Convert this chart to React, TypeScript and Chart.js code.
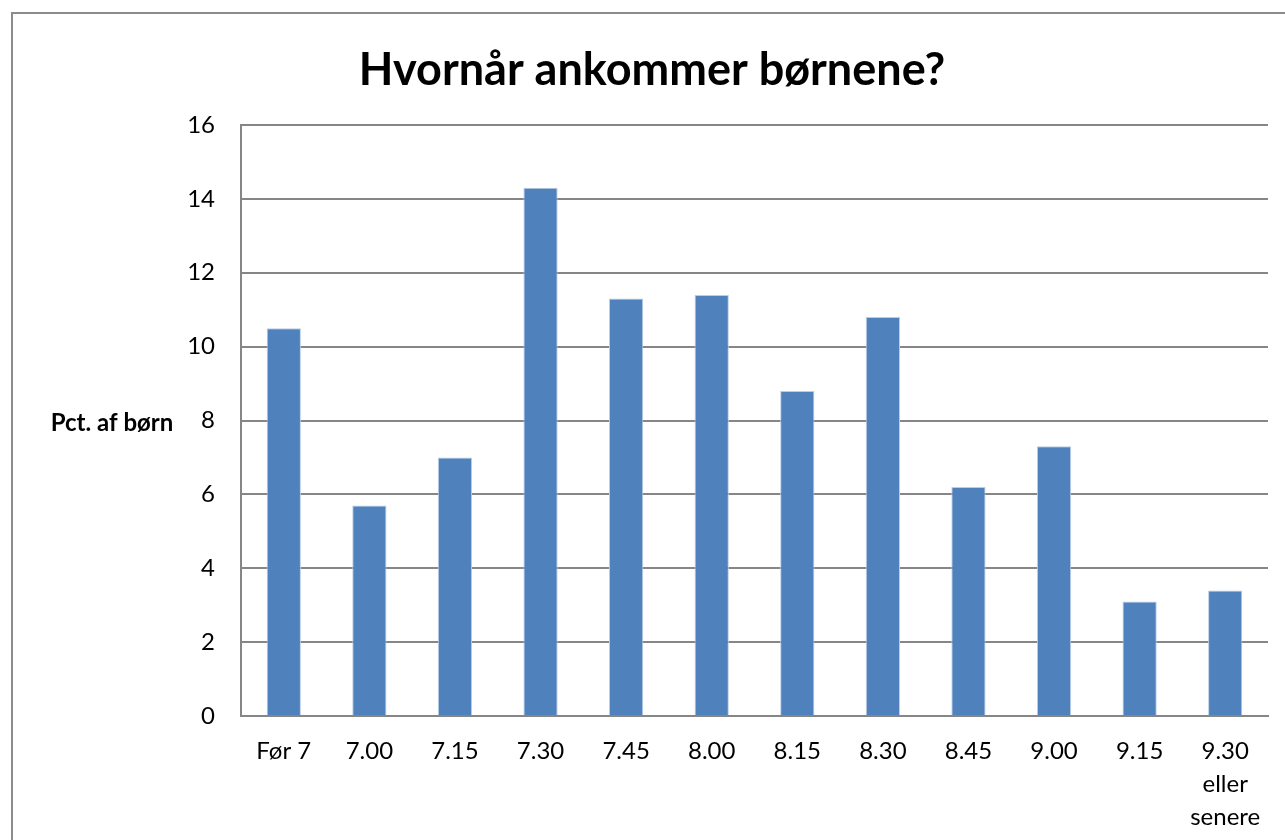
import React, { useEffect, useRef } from "react";
import { Chart, registerables } from "chart.js";

Chart.register(...registerables);

const categories: (string | string[])[] = [
  "Før 7", "7.00", "7.15", "7.30", "7.45", "8.00", "8.15", "8.30", "8.45", "9.00", "9.15",
  ["9.30", "eller", "senere"],
];
const values: number[] = [10.5, 5.7, 7.0, 14.3, 11.3, 11.4, 8.8, 10.8, 6.2, 7.3, 3.1, 3.4];
const chartTitle = "Hvornår ankommer børnene?";
const yAxisTitle = "Pct. af børn";

const FONT = "Lato, 'Open Sans', sans-serif";

export default function App() {
  const ref = useRef<HTMLCanvasElement | null>(null);

  useEffect(() => {
    document.body.style.margin = "0";
    const canvas = ref.current;
    if (!canvas) return;

    const textPlugin = {
      id: "textPlugin",
      afterDraw(chart: any) {
        const ctx = chart.ctx;
        ctx.save();
        ctx.fillStyle = "#000";
        ctx.textAlign = "center";
        ctx.textBaseline = "middle";
        ctx.font = `bold 45px ${FONT}`;
        ctx.fillText(chartTitle, 652, 70);
        ctx.font = `bold 24px ${FONT}`;
        ctx.fillText(yAxisTitle, 112, 423);
        ctx.restore();
      },
    };

    const chart = new Chart(canvas, {
      type: "bar",
      data: {
        labels: categories,
        datasets: [
          {
            data: values,
            backgroundColor: "#4F81BD",
            borderColor: "#B9CDE5",
            borderWidth: 1,
            barPercentage: 0.4,
            categoryPercentage: 1,
          },
        ],
      },
      options: {
        animation: false,
        responsive: false,
        maintainAspectRatio: false,
        layout: { padding: { top: 125, right: 17, bottom: 0, left: 0 } },
        plugins: {
          legend: { display: false },
          title: { display: false },
          tooltip: { enabled: false },
        },
        scales: {
          x: {
            grid: { display: false, drawTicks: false },
            border: { display: true, color: "#868686", width: 2 },
            ticks: {
              color: "#000",
              font: { family: FONT, size: 24, lineHeight: 1.375 },
              padding: 19,
              maxRotation: 0,
              autoSkip: false,
            },
            afterFit(scale: any) {
              scale.height = 124;
            },
          },
          y: {
            min: 0,
            max: 16,
            grid: { color: "#868686", lineWidth: 2, drawTicks: false },
            border: { display: true, color: "#868686", width: 2 },
            ticks: {
              stepSize: 2,
              color: "#000",
              font: { family: FONT, size: 24 },
              padding: 26,
            },
            afterFit(scale: any) {
              scale.width = 241;
            },
          },
        },
      },
      plugins: [textPlugin],
    });

    return () => chart.destroy();
  }, []);

  return (
    <div style={{ position: "fixed", left: 0, top: 0, width: 1285, height: 840, background: "#fff", overflow: "hidden" }}>
      <div
        style={{
          position: "absolute",
          left: 11,
          top: 12,
          width: 1300,
          height: 900,
          border: "2px solid #8c8c8c",
          boxSizing: "border-box",
        }}
      />
      <canvas ref={ref} width={1285} height={840} style={{ position: "absolute", left: 0, top: 0 }} />
    </div>
  );
}
